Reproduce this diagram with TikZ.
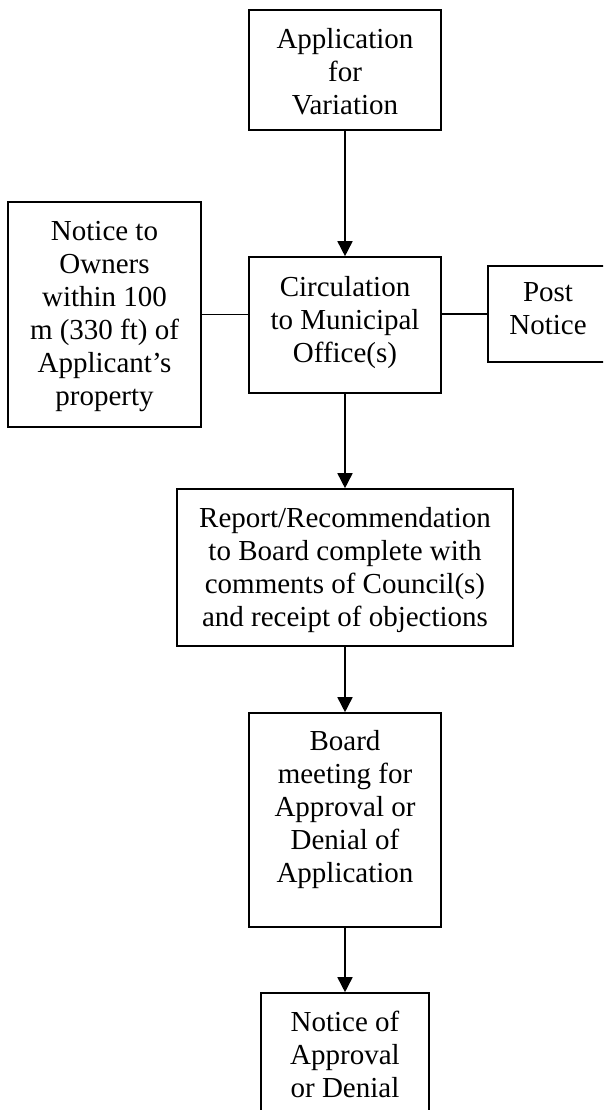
\documentclass[tikz,border=0pt]{standalone}
\usepackage{fontspec}
\setmainfont{Liberation Serif}
\usetikzlibrary{arrows.meta}
\begin{document}
\begin{tikzpicture}[x=1pt,y=-1pt,
  box/.style={draw=black,line width=1.6pt,rectangle,inner sep=0pt},
  lbl/.style={anchor=north,align=center,inner sep=0pt,font=\fontsize{29}{33}\selectfont},
  flow/.style={line width=1.6pt,-{Triangle[width=15pt,length=15pt]}},
  link/.style={line width=1.6pt}]
\useasboundingbox (0,0) rectangle (603,1110);
\clip (0,0) rectangle (603,1110);
% boxes
\node[box,minimum width=192pt,minimum height=120pt] (b1) at (345,70) {};
\node[box,minimum width=192pt,minimum height=136pt] (b2) at (345,325) {};
\node[box,minimum width=193pt,minimum height=225pt] (nl) at (104.5,314.5) {};
\node[box,minimum width=120pt,minimum height=96pt] (np) at (548,314) {};
\node[box,minimum width=336pt,minimum height=157pt] (b3) at (345,567.5) {};
\node[box,minimum width=192pt,minimum height=214pt] (b4) at (345,820) {};
\node[box,minimum width=168pt,minimum height=150pt] (b5) at (345,1068) {};
% texts
\node[lbl] (t1) at ([yshift=-18.5pt]b1.north) {Application\\for\\Variation};
\node[lbl] (t2) at ([yshift=-19.5pt]b2.north) {Circulation\\to Municipal\\Office(s)};
\node[lbl] (tl) at ([yshift=-20pt]nl.north) {Notice to\\Owners\\within 100\\m (330 ft) of\\Applicant’s\\property};
\node[lbl] (tp) at ([yshift=-17.5pt]np.north) {Post\\Notice};
\node[lbl] (t3) at ([yshift=-18.5pt]b3.north) {Report/Recommendation\\to Board complete with\\comments of Council(s)\\and receipt of objections};
\node[lbl] (t4) at ([yshift=-17.5pt]b4.north) {Board\\meeting for\\Approval or\\Denial of\\Application};
\node[lbl] (t5) at ([yshift=-18.5pt]b5.north) {Notice of\\Approval\\or Denial};
% connectors
\draw[flow] (b1.south) -- (b2.north);
\draw[flow] (b2.south) -- (b3.north);
\draw[flow] (b3.south) -- (b4.north);
\draw[flow] (b4.south) -- (b5.north);
\draw[link] (nl.east) -- (nl.east -| b2.west);
\draw[link] (np.west) -- (np.west -| b2.east);
\end{tikzpicture}
\end{document}
